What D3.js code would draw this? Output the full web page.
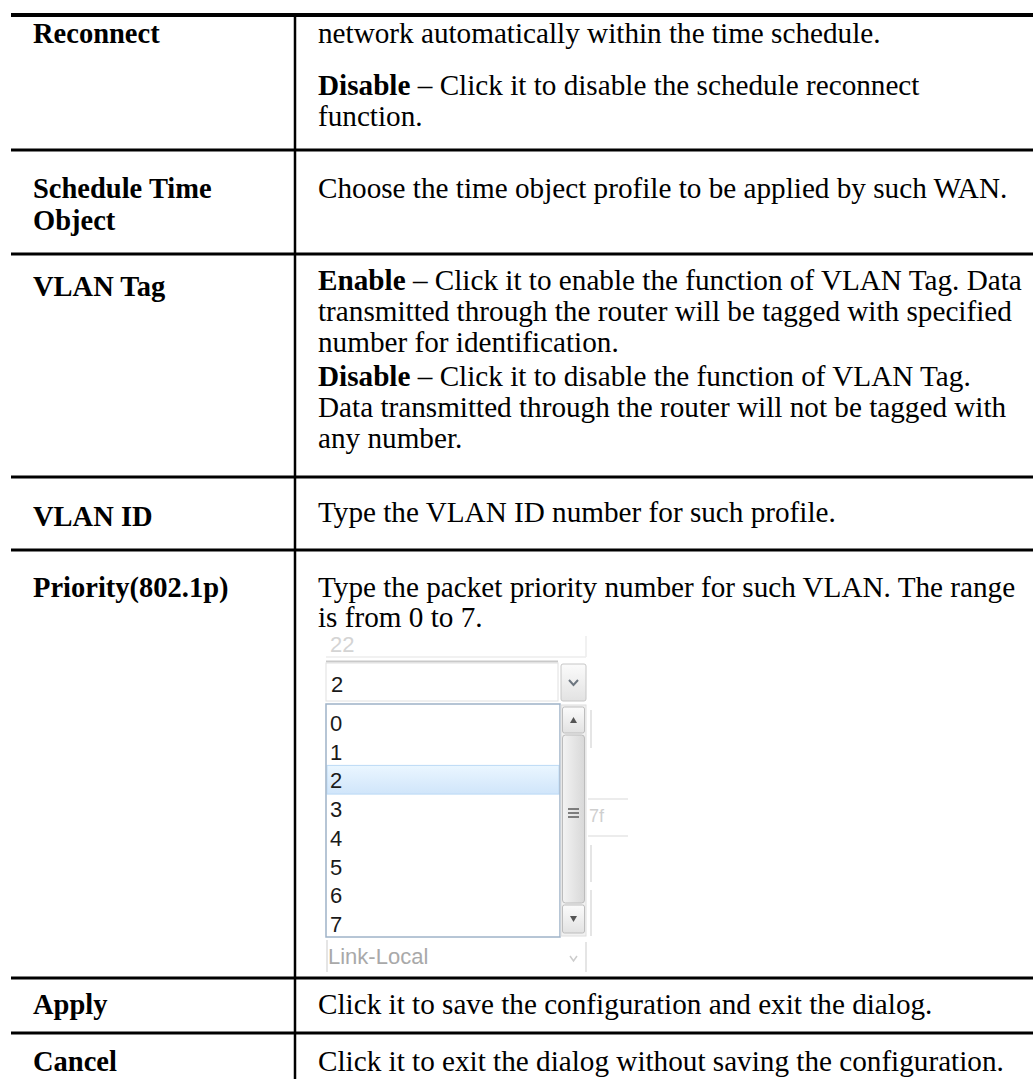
<!DOCTYPE html>
<html>
<head>
<meta charset="utf-8">
<script src="https://cdn.jsdelivr.net/npm/d3@7"></script>
<style>
  html, body { margin: 0; padding: 0; background: #fff; }
  svg { display: block; }
</style>
</head>
<body>
<svg id="doc" width="1033" height="1079"></svg>
<script>
// ---------- DATA ----------
const rowLabels = [
  ["Reconnect"],
  ["Schedule Time", "Object"],
  ["VLAN Tag"],
  ["VLAN ID"],
  ["Priority(802.1p)"],
  ["Apply"],
  ["Cancel"]
];
const rowDescriptions = [
  [["network automatically within the time schedule."],
   ["**Disable** – Click it to disable the schedule reconnect", "function."]],
  [["Choose the time object profile to be applied by such WAN."]],
  [["**Enable** – Click it to enable the function of VLAN Tag. Data",
    "transmitted through the router will be tagged with specified",
    "number for identification."],
   ["**Disable** – Click it to disable the function of VLAN Tag.",
    "Data transmitted through the router will not be tagged with",
    "any number."]],
  [["Type the VLAN ID number for such profile."]],
  [["Type the packet priority number for such VLAN. The range",
    "is from 0 to 7."]],
  [["Click it to save the configuration and exit the dialog."]],
  [["Click it to exit the dialog without saving the configuration."]]
];
const priorityOptions = ["0", "1", "2", "3", "4", "5", "6", "7"];
const selectedPriority = "2";
const fieldAbove = "22";
const fieldBelow = "Link-Local";
const sideFragment = "7f";

// ---------- LAYOUT ----------
const W = 1033, H = 1079;
const tableLeft = 11, dividerX = 295;
const topRuleY = 15;
const rowRules = [150, 254, 477, 550, 978, 1033];
const labelBaselines = [[43], [198, 230], [296], [526], [597], [1014], [1071]];
const descBaselines = [
  [[43], [95, 126]],
  [[198]],
  [[290, 321, 352], [386, 417, 448]],
  [[522]],
  [[597, 627]],
  [[1014]],
  [[1071]]
];
const labelX = 33, descX = 318;
const serif = "'Liberation Serif','Times New Roman',Times,serif";
const sans = "'Liberation Sans',Arial,Tahoma,sans-serif";
const descSize = 29.2, labelSize = 28.5;

const svg = d3.select("#doc");
const defs = svg.append("defs");

// ---------- TABLE RULES ----------
svg.append("line")
  .attr("x1", tableLeft).attr("x2", W)
  .attr("y1", topRuleY).attr("y2", topRuleY)
  .attr("stroke", "#000").attr("stroke-width", 4);
svg.append("line")
  .attr("x1", dividerX).attr("x2", dividerX)
  .attr("y1", topRuleY).attr("y2", H)
  .attr("stroke", "#000").attr("stroke-width", 2.5);
svg.selectAll("line.rule").data(rowRules).join("line")
  .attr("class", "rule")
  .attr("x1", tableLeft).attr("x2", W)
  .attr("y1", d => d).attr("y2", d => d)
  .attr("stroke", "#000").attr("stroke-width", 3);

// ---------- TEXT ----------
function writeRich(textSel, str) {
  const parts = str.split("**");
  parts.forEach((p, i) => {
    if (!p) return;
    textSel.append("tspan")
      .attr("font-weight", i % 2 === 1 ? "bold" : "normal")
      .text(p);
  });
}

rowLabels.forEach((lines, r) => {
  lines.forEach((ln, k) => {
    svg.append("text")
      .attr("x", labelX).attr("y", labelBaselines[r][k])
      .attr("font-family", serif).attr("font-size", labelSize)
      .attr("font-weight", "bold").attr("fill", "#000")
      .text(ln);
  });
});

rowDescriptions.forEach((paras, r) => {
  paras.forEach((lines, p) => {
    lines.forEach((ln, k) => {
      const t = svg.append("text")
        .attr("x", descX).attr("y", descBaselines[r][p][k])
        .attr("font-family", serif).attr("font-size", descSize)
        .attr("fill", "#000");
      writeRich(t, ln);
    });
  });
});

// ---------- SCREENSHOT OF THE PRIORITY DROPDOWN ----------
const ui = svg.append("g");
const boxL = 326, boxR = 560;
const uiSize = 22;

// faded field above (cut off)
defs.append("clipPath").attr("id", "clipTop")
  .append("rect").attr("x", 320).attr("y", 637).attr("width", 300).attr("height", 30);
ui.append("text").attr("clip-path", "url(#clipTop)")
  .attr("x", 330).attr("y", 652)
  .attr("font-family", sans).attr("font-size", uiSize).attr("fill", "#d4d4d4")
  .text(fieldAbove);
ui.append("line").attr("x1", boxL).attr("x2", 586).attr("y1", 657).attr("y2", 657)
  .attr("stroke", "#ececec").attr("stroke-width", 1.5);
ui.append("line").attr("x1", 586).attr("x2", 586).attr("y1", 636).attr("y2", 657)
  .attr("stroke", "#ececec").attr("stroke-width", 1.5);
ui.append("line").attr("x1", boxL).attr("x2", 558).attr("y1", 661.5).attr("y2", 661.5)
  .attr("stroke", "#c9c9c9").attr("stroke-width", 2);

// select box with "2"
ui.append("rect").attr("x", boxL).attr("y", 663).attr("width", 232).attr("height", 38)
  .attr("fill", "#fff").attr("stroke", "#e0e0e0").attr("stroke-width", 1);
ui.append("text").attr("x", 331).attr("y", 692)
  .attr("font-family", sans).attr("font-size", uiSize).attr("fill", "#1a1a1a")
  .text(selectedPriority);
const btnGrad = defs.append("linearGradient").attr("id", "btnGrad")
  .attr("x1", 0).attr("x2", 0).attr("y1", 0).attr("y2", 1);
btnGrad.append("stop").attr("offset", "0%").attr("stop-color", "#fbfbfb");
btnGrad.append("stop").attr("offset", "100%").attr("stop-color", "#e2e2e2");
ui.append("rect").attr("x", 561).attr("y", 664).attr("width", 25).attr("height", 37).attr("rx", 2)
  .attr("fill", "url(#btnGrad)").attr("stroke", "#c6c6c6").attr("stroke-width", 1);
ui.append("path").attr("d", "M569,680 L573.5,685 L578,680")
  .attr("fill", "none").attr("stroke", "#6d7680").attr("stroke-width", 2);

// list box
const listTop = 704, listBottom = 937;
const y = d3.scaleBand().domain(priorityOptions).range([708, 708 + 28.7 * priorityOptions.length]);
defs.append("clipPath").attr("id", "clipList")
  .append("rect").attr("x", boxL).attr("y", listTop).attr("width", boxR - boxL).attr("height", listBottom - listTop);
ui.append("rect").attr("x", boxL).attr("y", listTop).attr("width", boxR - boxL).attr("height", listBottom - listTop)
  .attr("fill", "#fff");
const selGrad = defs.append("linearGradient").attr("id", "selGrad")
  .attr("x1", 0).attr("x2", 0).attr("y1", 0).attr("y2", 1);
selGrad.append("stop").attr("offset", "0%").attr("stop-color", "#eaf6ff");
selGrad.append("stop").attr("offset", "100%").attr("stop-color", "#d0e5fa");
ui.append("rect").attr("x", boxL + 1).attr("y", y(selectedPriority)).attr("width", boxR - boxL - 2)
  .attr("height", y.bandwidth())
  .attr("fill", "url(#selGrad)").attr("stroke", "#bcdaf5").attr("stroke-width", 1);
ui.append("g").attr("clip-path", "url(#clipList)")
  .selectAll("text").data(priorityOptions).join("text")
  .attr("x", 330).attr("y", d => y(d) + 23)
  .attr("font-family", sans).attr("font-size", uiSize).attr("fill", "#1a1a1a")
  .text(d => d);
ui.append("rect").attr("x", boxL).attr("y", listTop).attr("width", boxR - boxL).attr("height", listBottom - listTop)
  .attr("fill", "none").attr("stroke", "#9fb3c8").attr("stroke-width", 1.5);

// scrollbar
ui.append("rect").attr("x", 561).attr("y", 705).attr("width", 25).attr("height", 231)
  .attr("fill", "#f1f1f1").attr("stroke", "#dedede").attr("stroke-width", 1);
ui.append("rect").attr("x", 562.5).attr("y", 707).attr("width", 22).attr("height", 26).attr("rx", 2)
  .attr("fill", "url(#btnGrad)").attr("stroke", "#bdbdbd").attr("stroke-width", 1);
ui.append("path").attr("d", "M570,723 L573.5,717 L577,723 Z").attr("fill", "#555");
const thumbGrad = defs.append("linearGradient").attr("id", "thumbGrad")
  .attr("x1", 0).attr("x2", 1).attr("y1", 0).attr("y2", 0);
thumbGrad.append("stop").attr("offset", "0%").attr("stop-color", "#f3f3f3");
thumbGrad.append("stop").attr("offset", "100%").attr("stop-color", "#d8d8d8");
ui.append("rect").attr("x", 562.5).attr("y", 735).attr("width", 22).attr("height", 168).attr("rx", 3)
  .attr("fill", "url(#thumbGrad)").attr("stroke", "#bcbcbc").attr("stroke-width", 1);
[809, 813, 817].forEach(gy => {
  ui.append("line").attr("x1", 568).attr("x2", 579).attr("y1", gy).attr("y2", gy)
    .attr("stroke", "#5a5a5a").attr("stroke-width", 1.5);
});
ui.append("rect").attr("x", 562.5).attr("y", 905).attr("width", 22).attr("height", 28).attr("rx", 2)
  .attr("fill", "url(#btnGrad)").attr("stroke", "#bdbdbd").attr("stroke-width", 1);
ui.append("path").attr("d", "M570,916 L573.5,922 L577,916 Z").attr("fill", "#555");

// faded fragments to the right of the list
const faint = "#dcdcdc";
[[591, 710, 748], [591, 845, 882], [591, 890, 936], [586, 942, 972], [327, 940, 972]].forEach(([x, y1, y2]) => {
  ui.append("line").attr("x1", x).attr("x2", x).attr("y1", y1).attr("y2", y2)
    .attr("stroke", faint).attr("stroke-width", 1.5);
});
[[588, 628, 799], [588, 628, 836]].forEach(([x1, x2, yy]) => {
  ui.append("line").attr("x1", x1).attr("x2", x2).attr("y1", yy).attr("y2", yy)
    .attr("stroke", "#e6e6e6").attr("stroke-width", 1.5);
});
ui.append("text").attr("x", 589).attr("y", 822)
  .attr("font-family", sans).attr("font-size", 18).attr("fill", "#cfcfcf")
  .text(sideFragment);

// faded field below
ui.append("text").attr("x", 328).attr("y", 964)
  .attr("font-family", sans).attr("font-size", uiSize).attr("fill", "#a9a9a9")
  .text(fieldBelow);
ui.append("path").attr("d", "M570,956 L573.5,961 L577,956")
  .attr("fill", "none").attr("stroke", "#cccccc").attr("stroke-width", 1.5);
</script>
</body>
</html>
